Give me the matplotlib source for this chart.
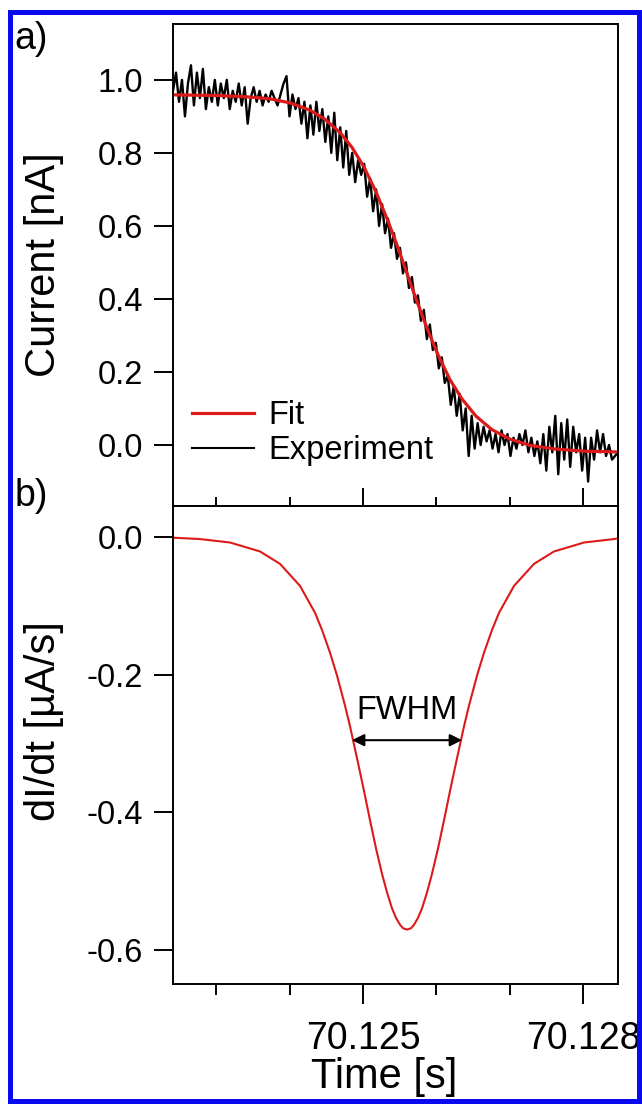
import numpy as np
import matplotlib
matplotlib.use('Agg')
import matplotlib.pyplot as plt
from matplotlib.ticker import MultipleLocator, FormatStrFormatter
from matplotlib.patches import Rectangle

plt.rcParams['font.family'] = ['Liberation Sans', 'DejaVu Sans']
plt.rcParams['font.size'] = 23.5

# times are in ms after 70.12 s
t0 = 70.12

# fitted current [nA]
fit_ms = [2.409, 3.050, 3.459, 3.732, 4.005, 4.277, 4.482, 4.686, 4.850, 5.014,
          5.177, 5.341, 5.477, 5.600, 5.723, 5.859, 6.023, 6.186, 6.350, 6.541,
          6.759, 7.005, 7.277, 7.618, 8.027, 8.477]
fit_current = [0.959, 0.957, 0.953, 0.948, 0.937, 0.917, 0.892, 0.856, 0.815, 0.761,
               0.693, 0.613, 0.540, 0.470, 0.400, 0.327, 0.247, 0.179, 0.126, 0.079,
               0.042, 0.016, -0.001, -0.011, -0.017, -0.019]

# measured current [nA], evenly sampled
exp_start_ms = 2.409
exp_end_ms = 8.477
exp_current = [
    0.97, 1.02, 0.94, 1.00, 0.90, 0.99, 1.04, 0.93, 1.02, 0.95,
    1.03, 0.92, 0.98, 0.94, 1.00, 0.93, 0.99, 0.95, 1.00, 0.92,
    0.97, 0.94, 0.99, 0.93, 0.98, 0.88, 0.95, 0.98, 0.94, 0.97,
    0.93, 0.96, 0.94, 0.97, 0.95, 0.93, 0.96, 0.99, 1.01, 0.90,
    0.96, 0.92, 0.95, 0.88, 0.94, 0.84, 0.93, 0.85, 0.94, 0.86,
    0.92, 0.83, 0.90, 0.80, 0.91, 0.78, 0.87, 0.76, 0.86, 0.74,
    0.80, 0.72, 0.78, 0.74, 0.77, 0.68, 0.73, 0.64, 0.70, 0.60,
    0.66, 0.58, 0.62, 0.54, 0.58, 0.51, 0.54, 0.47, 0.50, 0.43,
    0.46, 0.39, 0.41, 0.34, 0.37, 0.29, 0.33, 0.26, 0.28, 0.21,
    0.24, 0.17, 0.19, 0.11, 0.16, 0.08, 0.14, 0.04, 0.10, -0.03,
    0.08, -0.01, 0.06, 0.00, 0.05, 0.01, 0.04, -0.01, 0.03, -0.02,
    0.04, 0.00, 0.03, -0.03, 0.02, -0.01, 0.03, 0.00, 0.04, -0.02,
    0.02, -0.03, 0.01, -0.05, 0.03, -0.07, 0.05, -0.02, 0.08, -0.08,
    0.06, -0.04, 0.07, -0.06, 0.05, -0.02, 0.03, -0.07, 0.02, -0.10,
    0.02, -0.04, 0.04, -0.02, 0.03, -0.03, 0.00, -0.04, -0.03, -0.02]

# derivative of the fit [uA/s]
deriv_ms = [2.409, 2.777, 3.186, 3.595, 3.868, 4.141, 4.345, 4.441, 4.550, 4.645,
            4.755, 4.823, 4.932, 5.014, 5.095, 5.177, 5.259, 5.327, 5.395, 5.450,
            5.505, 5.545, 5.600, 5.655, 5.695, 5.750, 5.805, 5.873, 5.941, 6.023,
            6.105, 6.186, 6.268, 6.377, 6.445, 6.555, 6.650, 6.759, 6.855, 7.059,
            7.332, 7.605, 8.014, 8.423, 8.477]
deriv_vals = [-0.001, -0.003, -0.008, -0.021, -0.039, -0.071, -0.110, -0.135, -0.168, -0.201,
              -0.245, -0.275, -0.328, -0.369, -0.411, -0.452, -0.489, -0.516, -0.539, -0.553,
              -0.563, -0.568, -0.570, -0.568, -0.563, -0.553, -0.539, -0.516, -0.489, -0.452,
              -0.411, -0.369, -0.328, -0.275, -0.245, -0.201, -0.168, -0.135, -0.110, -0.071,
              -0.039, -0.021, -0.008, -0.003, -0.002]

fwhm_ms = [4.850, 6.350]
fwhm_level = -0.295

red = '#dc1a1a'
big = 30
tick_x = 27

t_fit = t0 + np.array(fit_ms) / 1000
t_exp = t0 + np.linspace(exp_start_ms, exp_end_ms, len(exp_current)) / 1000
t_der = t0 + np.array(deriv_ms) / 1000

fig = plt.figure(figsize=(6.42, 11.04), dpi=100)
ax1 = fig.add_axes([0.2695, 0.54167, 0.6931, 0.43659])
ax2 = fig.add_axes([0.2695, 0.10870, 0.6931, 0.43297], sharex=ax1)

# panel a
l_exp, = ax1.plot(t_exp, exp_current, color='black', lw=1.7)
l_fit, = ax1.plot(t_fit, fit_current, color=red, lw=2.3)
ax1.set_ylim(-0.167, 1.153)
ax1.set_yticks([0.0, 0.2, 0.4, 0.6, 0.8, 1.0])
ax1.yaxis.set_major_formatter(FormatStrFormatter('%.1f'))
ax1.set_ylabel('Current [nA]', fontsize=big)
ax1.yaxis.set_label_coords(-0.245, 0.5)
leg = ax1.legend([l_fit, l_exp], ['Fit', 'Experiment'], loc='lower left',
                 bbox_to_anchor=(0.043, 0.083), frameon=False, borderpad=0,
                 borderaxespad=0, handlelength=1.9, handletextpad=0.43,
                 labelspacing=0.12)
leg.get_lines()[0].set_linewidth(2.3)
leg.get_lines()[1].set_linewidth(1.5)
ax1.tick_params(axis='x', which='major', direction='inout', length=26.6, width=1.4,
                labelbottom=False)
ax1.tick_params(axis='x', which='minor', direction='inout', length=13, width=1.4)

# panel b
ax2.plot(t_der, deriv_vals, color=red, lw=1.5)
ax2.set_ylim(-0.649, 0.045)
ax2.set_yticks([0.0, -0.2, -0.4, -0.6])
ax2.yaxis.set_major_formatter(FormatStrFormatter('%.1f'))
ax2.set_ylabel('dI/dt [µA/s]', fontsize=big)
ax2.yaxis.set_label_coords(-0.245, 0.55)
ax2.set_xlabel('Time [s]', fontsize=big)
ax2.xaxis.set_label_coords(0.475, -0.153)
ax2.annotate('', xy=(t0 + fwhm_ms[0] / 1000, fwhm_level),
             xytext=(t0 + fwhm_ms[1] / 1000, fwhm_level),
             arrowprops=dict(arrowstyle='<|-|>', color='black', lw=1.5,
                             mutation_scale=18, shrinkA=0, shrinkB=0))
ax2.text(t0 + (fwhm_ms[0] + fwhm_ms[1]) / 2000, fwhm_level + 0.02, 'FWHM',
         ha='center', va='bottom')
ax2.tick_params(axis='x', which='major', direction='out', length=14.4, width=1.4,
                pad=12, labelsize=tick_x)
ax2.tick_params(axis='x', which='minor', direction='out', length=8, width=1.4)

ax2.set_xlim(t0 + 2.409 / 1000, t0 + 8.477 / 1000)
ax2.xaxis.set_major_locator(MultipleLocator(0.003))
ax2.xaxis.set_minor_locator(MultipleLocator(0.001))
ax2.xaxis.set_major_formatter(FormatStrFormatter('%.3f'))

for ax in (ax1, ax2):
    ax.tick_params(axis='y', direction='out', length=13.5, width=1.4, pad=8)
    for s in ax.spines.values():
        s.set_linewidth(1.4)

fig.text(31 / 642, 1 - 39 / 1104, 'a)', ha='center', va='center', fontsize=27)
fig.text(31 / 642, 1 - 496 / 1104, 'b)', ha='center', va='center', fontsize=27)

# blue frame
fig.patches.append(Rectangle((10.5 / 642, 3 / 1104), 628.5 / 642, 1089 / 1104,
                             transform=fig.transFigure, fill=False,
                             edgecolor='#0a0af0', lw=3.6))

fig.savefig('out.png', dpi=100)
